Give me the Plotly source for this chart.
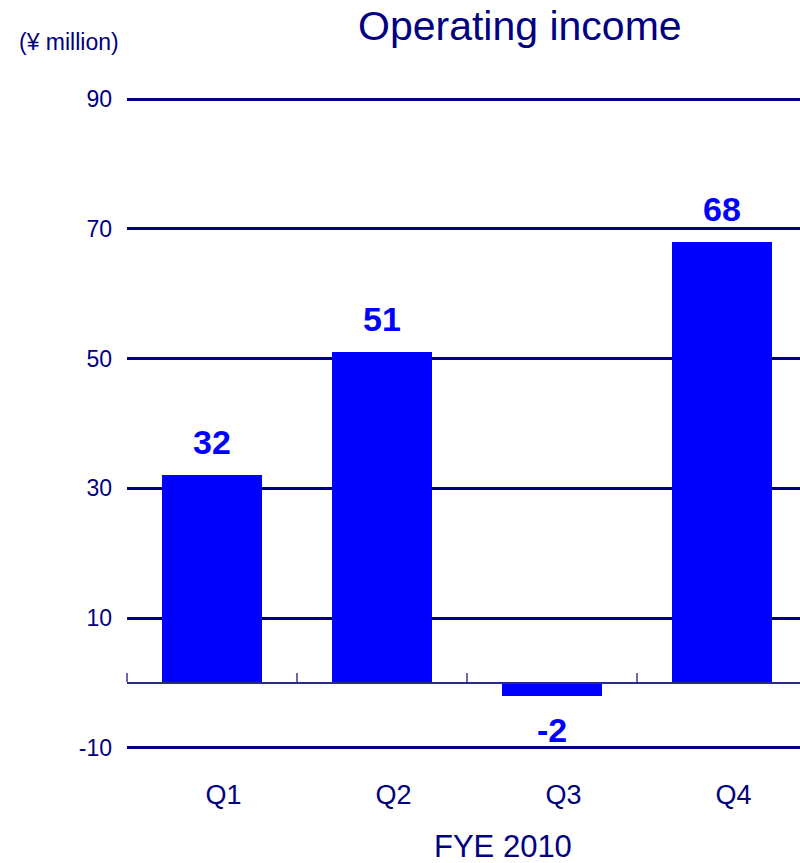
import plotly.graph_objects as go

categories = ["Q1", "Q2", "Q3", "Q4"]
values = [32, 51, -2, 68]
y_ticks = [-10, 10, 30, 50, 70, 90]
y_tick_text = ["-10", "10", "30", "50", "70", "90"]
x_title = "FYE 2010"
chart_title = "Operating income"
unit_label = "(¥ million)"

NAVY = "#000080"
BLUE = "#0000FF"
FONT = "Liberation Sans, Arial, sans-serif"

W, H = 800, 863
Y_TOP_PX, Y_BOT_PX = 99, 748          # pixel rows of 90 and -10
px_per_unit = (Y_BOT_PX - Y_TOP_PX) / (y_ticks[-1] - y_ticks[0])
pad_units = 0.5
y_range = [y_ticks[0] - pad_units, y_ticks[-1] + pad_units]
plot_top = Y_TOP_PX - pad_units * px_per_unit
plot_bot = Y_BOT_PX + pad_units * px_per_unit
ML, MR = 127, 0
MT, MB = plot_top, H - plot_bot
plot_w = W - ML - MR
plot_h = plot_bot - plot_top
cat_px = 170
x_range = [-0.5, -0.5 + plot_w / cat_px]
label_offset = 11.5 / cat_px   # category labels sit slightly right of bar centres


def py(px):
    """pixel row -> paper y"""
    return (plot_bot - px) / plot_h


def pxx(px):
    return (px - ML) / plot_w


fig = go.Figure()
fig.add_trace(go.Bar(
    x=list(range(len(categories))), y=values,
    marker=dict(color=BLUE, line=dict(width=0)),
    width=0.59, showlegend=False, hoverinfo="skip",
))
fig.add_trace(go.Scatter(x=[0], y=[0], xaxis="x2", mode="markers",
                         marker=dict(opacity=0), showlegend=False, hoverinfo="skip"))

for i, v in enumerate(values):
    fig.add_annotation(
        x=i, y=v, xref="x", yref="y", text=f"<b>{v}</b>", showarrow=False,
        yanchor="middle", yshift=33 if v >= 0 else -34,
        font=dict(family=FONT, size=34, color=BLUE),
    )

zero_frac = (0 - y_range[0]) / (y_range[1] - y_range[0])

fig.update_layout(
    width=W, height=H,
    margin=dict(l=ML, r=MR, t=MT, b=MB, pad=0),
    paper_bgcolor="white", plot_bgcolor="white",
    bargap=0,
    xaxis=dict(
        range=x_range, tickmode="array",
        tickvals=[i + label_offset for i in range(len(categories))], ticktext=categories,
        showgrid=False, zeroline=False, showline=False, ticks="",
        tickfont=dict(family=FONT, size=27, color=NAVY),
        ticklabelstandoff=25,
    ),
    xaxis2=dict(
        overlaying="x", side="top", anchor="free", position=zero_frac,
        range=x_range, tickmode="array",
        tickvals=[i - 0.5 for i in range(len(categories) + 1)],
        showticklabels=False, ticks="outside", ticklen=9, tickwidth=1.5,
        tickcolor="#6a6aaa", showline=True, linecolor="#2a2a88", linewidth=1.5,
        showgrid=False, zeroline=False,
    ),
    yaxis=dict(
        range=y_range, tickmode="array", tickvals=y_ticks, ticktext=y_tick_text,
        showgrid=True, gridcolor=NAVY, gridwidth=2.5,
        zeroline=False, showline=False, ticks="",
        tickfont=dict(family=FONT, size=23, color=NAVY),
        ticklabelstandoff=14,
    ),
    font=dict(family=FONT, color=NAVY),
)

fig.add_annotation(
    x=pxx(519.5), y=py(26), xref="paper", yref="paper",
    text=chart_title, showarrow=False, xanchor="center", yanchor="middle",
    font=dict(family=FONT, size=41, color=NAVY),
)
fig.add_annotation(
    x=pxx(17), y=py(42), xref="paper", yref="paper",
    text=unit_label, showarrow=False, xanchor="left", yanchor="middle",
    font=dict(family=FONT, size=23, color=NAVY),
)
fig.add_annotation(
    x=pxx(503), y=py(863), xref="paper", yref="paper",
    text=x_title, showarrow=False, xanchor="center", yanchor="bottom",
    borderpad=0, yshift=-2, font=dict(family=FONT, size=31, color=NAVY),
)

fig.write_html("out.html")
